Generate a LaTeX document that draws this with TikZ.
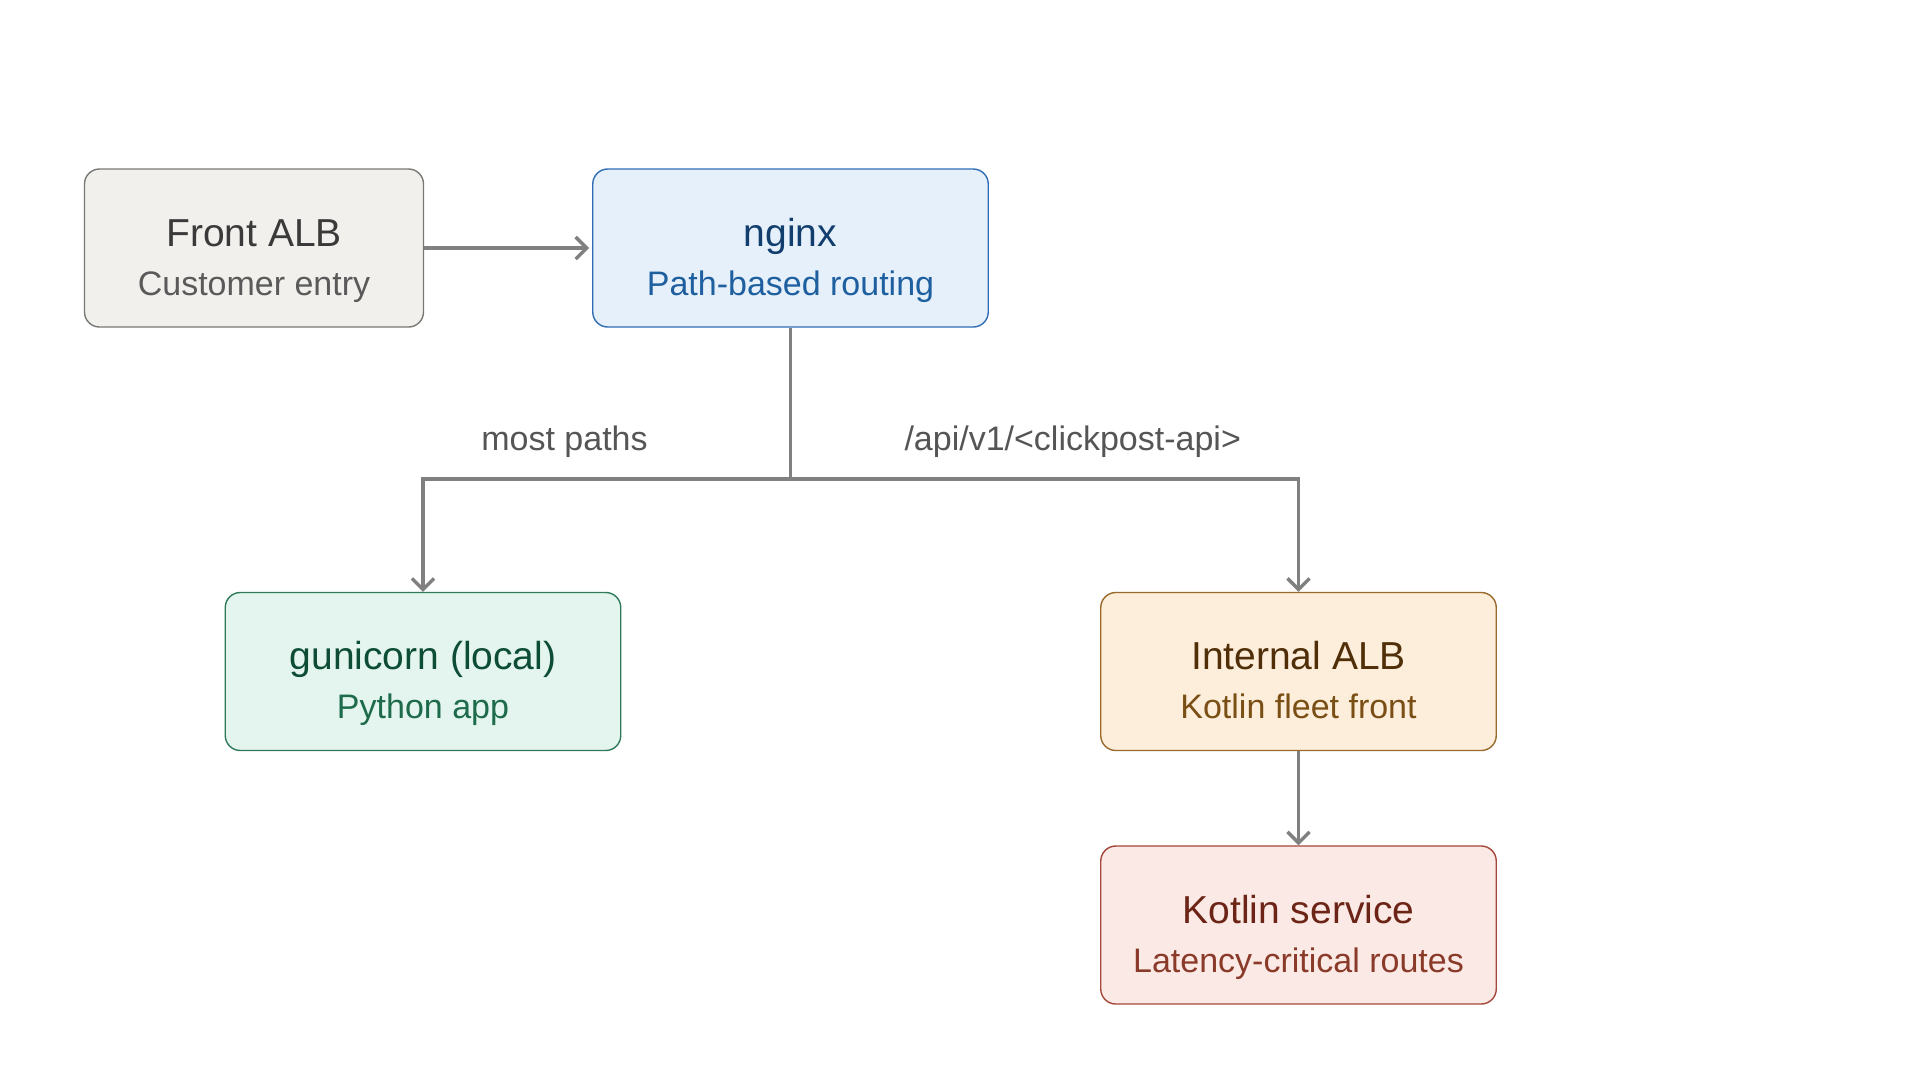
\documentclass[tikz,border=0pt]{standalone}
\usepackage{fontspec}
\setmainfont{Liberation Sans}
\usepackage{tikz}
\usetikzlibrary{arrows.meta}

\definecolor{flowgray}{RGB}{128,128,128}
\definecolor{labelgray}{RGB}{85,85,85}
\definecolor{frontfill}{RGB}{241,240,236}
\definecolor{frontdraw}{RGB}{120,120,118}
\definecolor{fronttitle}{RGB}{58,58,58}
\definecolor{frontsub}{RGB}{90,90,90}
\definecolor{nginxfill}{RGB}{230,240,250}
\definecolor{nginxdraw}{RGB}{46,109,180}
\definecolor{nginxtitle}{RGB}{18,62,110}
\definecolor{nginxsub}{RGB}{30,95,160}
\definecolor{gunifill}{RGB}{227,245,238}
\definecolor{gunidraw}{RGB}{47,122,90}
\definecolor{gunititle}{RGB}{14,77,53}
\definecolor{gunisub}{RGB}{30,107,76}
\definecolor{ialbfill}{RGB}{252,238,219}
\definecolor{ialbdraw}{RGB}{154,106,42}
\definecolor{ialbtitle}{RGB}{79,46,8}
\definecolor{ialbsub}{RGB}{122,79,21}
\definecolor{ktfill}{RGB}{251,233,229}
\definecolor{ktdraw}{RGB}{165,71,58}
\definecolor{kttitle}{RGB}{107,36,21}
\definecolor{ktsub}{RGB}{138,58,40}

\begin{document}
\begin{tikzpicture}[x=0.5pt,y=-0.5pt]
    \tikzset{box/.style = {shape=rectangle,rounded corners=7.5pt,line width=0.7pt,minimum height=79pt,minimum width=197.75pt,inner sep=0pt}}
    \tikzset{title/.style = {anchor=base,font=\fontsize{19.5}{22}\selectfont}}
    \tikzset{sub/.style = {anchor=base,font=\fontsize{17}{20}\selectfont}}
    \tikzset{lbl/.style = {anchor=base,text=labelgray,font=\fontsize{17}{20}\selectfont}}
    \tikzset{edge/.style = {draw=flowgray,line width=1.9pt}}
    \tikzset{arr/.style = {edge,-{Straight Barb[length=5.5pt,width=11pt,line width=1.7pt]}}}

    \useasboundingbox (0,0) rectangle (1920,1073);

    % boxes

    \node[box,fill=frontfill,draw=frontdraw,minimum width=169.5pt] (front) at (254,248) {};
    \node[box,fill=nginxfill,draw=nginxdraw] (nginx) at (790.5,248) {};
    \node[box,fill=gunifill,draw=gunidraw] (guni) at (423,671.5) {};
    \node[box,fill=ialbfill,draw=ialbdraw] (ialb) at (1298.5,671.5) {};
    \node[box,fill=ktfill,draw=ktdraw] (kotlin) at (1298.5,925) {};

    % texts

    \node[title,text=fronttitle] (front-t) at (254,246) {Front ALB};
    \node[sub,text=frontsub] (front-s) at (254,295) {Customer entry};
    \node[title,text=nginxtitle] (nginx-t) at (790.5,246) {nginx};
    \node[sub,text=nginxsub] (nginx-s) at (790.5,295) {Path-based routing};
    \node[title,text=gunititle] (guni-t) at (423,669.5) {gunicorn (local)};
    \node[sub,text=gunisub] (guni-s) at (423,718.5) {Python app};
    \node[title,text=ialbtitle] (ialb-t) at (1298.5,669.5) {Internal ALB};
    \node[sub,text=ialbsub] (ialb-s) at (1298.5,718.5) {Kotlin fleet front};
    \node[title,text=kttitle] (kotlin-t) at (1298.5,923) {Kotlin service};
    \node[sub,text=ktsub] (kotlin-s) at (1298.5,972) {Latency-critical routes};

    % connectors

    \coordinate (split) at (790.5,478.8);
    \draw[arr] (front.east) -- ([xshift=-1.5pt]nginx.west);
    \draw[edge] (nginx.south) -- (split);
    \draw[arr] (split) -| (guni.north);
    \draw[arr] (split) -| (ialb.north);
    \draw[arr] (ialb.south) -- (kotlin.north);

    \node[lbl] (most) at (564.5,450.5) {most paths};
    \node[lbl] (api) at (1072.7,450.5) {/api/v1/<clickpost-api>};
\end{tikzpicture}
\end{document}
